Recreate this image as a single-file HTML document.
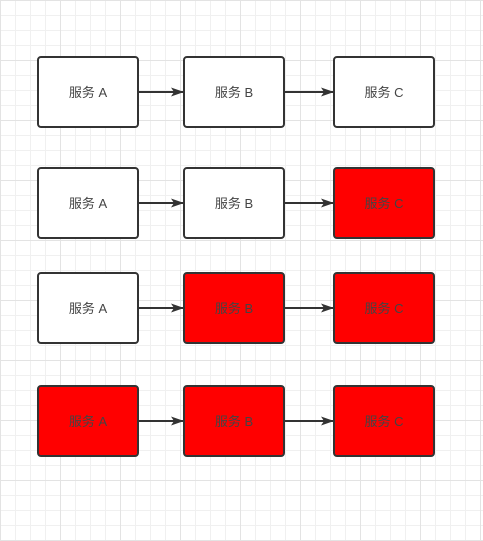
<!DOCTYPE html>
<html><head><style>
body{margin:0;width:483px;height:541px;overflow:hidden;background:#fff;
background-image:linear-gradient(#e3e3e3 1px,transparent 1px),linear-gradient(90deg,#e3e3e3 1px,transparent 1px),linear-gradient(#f0f0f0 1px,transparent 1px),linear-gradient(90deg,#f0f0f0 1px,transparent 1px);
background-size:60px 60px,60px 60px,15px 15px,15px 15px;background-position:0 0;}
</style></head><body>
<svg width="483" height="541" style="position:absolute;left:0;top:0" font-family="Liberation Sans, Noto Sans CJK SC, sans-serif" font-size="13" text-anchor="middle">
<defs><marker id="m" markerWidth="13" markerHeight="9" refX="12" refY="4.5" orient="auto" markerUnits="userSpaceOnUse"><path d="M0,0L13,4.5L0,9L3,4.5Z" fill="#333"/></marker></defs>
<g stroke="#333" stroke-width="2" marker-end="url(#m)">
<line x1="138" y1="92" x2="183" y2="92"/><line x1="284" y1="92" x2="333" y2="92"/>
<line x1="138" y1="203" x2="183" y2="203"/><line x1="284" y1="203" x2="333" y2="203"/>
<line x1="138" y1="308" x2="183" y2="308"/><line x1="284" y1="308" x2="333" y2="308"/>
<line x1="138" y1="421" x2="183" y2="421"/><line x1="284" y1="421" x2="333" y2="421"/>
</g>
<g stroke="#333" stroke-width="2">
<rect x="38" y="57" width="100" height="70" rx="3" fill="#fff"/>
<rect x="184" y="57" width="100" height="70" rx="3" fill="#fff"/>
<rect x="334" y="57" width="100" height="70" rx="3" fill="#fff"/>
<rect x="38" y="168" width="100" height="70" rx="3" fill="#fff"/>
<rect x="184" y="168" width="100" height="70" rx="3" fill="#fff"/>
<rect x="334" y="168" width="100" height="70" rx="3" fill="#f00"/>
<rect x="38" y="273" width="100" height="70" rx="3" fill="#fff"/>
<rect x="184" y="273" width="100" height="70" rx="3" fill="#f00"/>
<rect x="334" y="273" width="100" height="70" rx="3" fill="#f00"/>
<rect x="38" y="386" width="100" height="70" rx="3" fill="#f00"/>
<rect x="184" y="386" width="100" height="70" rx="3" fill="#f00"/>
<rect x="334" y="386" width="100" height="70" rx="3" fill="#f00"/>
</g>
<g fill="#444">
<text x="88" y="97">服务 A</text><text x="234" y="97">服务 B</text><text x="384" y="97">服务 C</text>
<text x="88" y="208">服务 A</text><text x="234" y="208">服务 B</text><text x="384" y="208">服务 C</text>
<text x="88" y="313">服务 A</text><text x="234" y="313">服务 B</text><text x="384" y="313">服务 C</text>
<text x="88" y="426">服务 A</text><text x="234" y="426">服务 B</text><text x="384" y="426">服务 C</text>
</g>
</svg>
</body></html>
